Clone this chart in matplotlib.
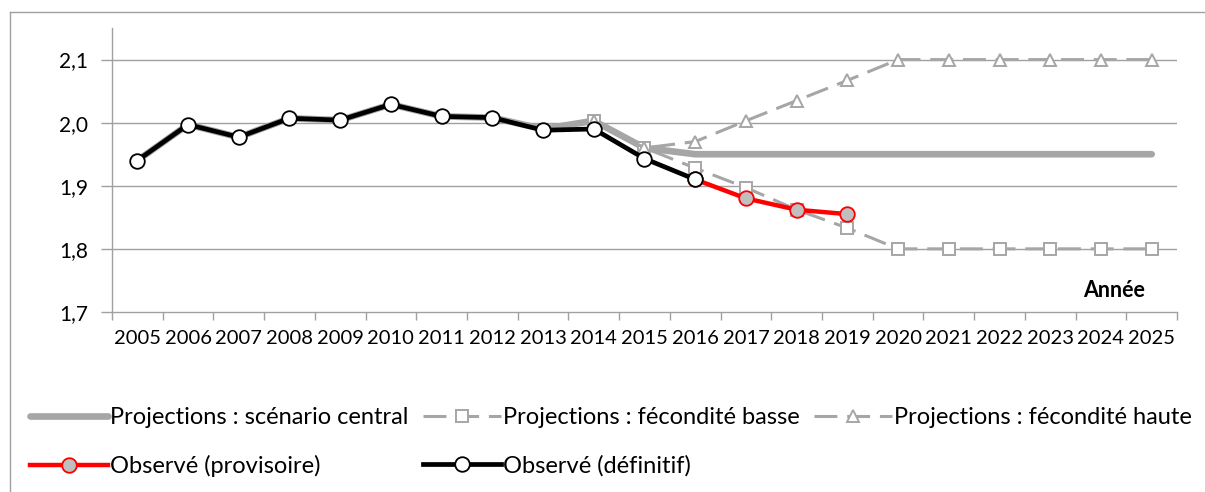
import matplotlib.pyplot as plt
from matplotlib.lines import Line2D
from matplotlib.ticker import FixedLocator, NullFormatter

# data
years = list(range(2005, 2026))
obs_def = [1.940, 1.997, 1.977, 2.007, 2.004, 2.029, 2.010, 2.008, 1.988, 1.990, 1.943, 1.910]
obs_prov_years = [2016, 2017, 2018, 2019]
obs_prov = [1.910, 1.880, 1.862, 1.855]
central_years = list(range(2005, 2026))
central = [1.940, 1.997, 1.977, 2.007, 2.004, 2.029, 2.010, 2.008, 1.990, 2.003, 1.960, 1.950,
           1.950, 1.950, 1.950, 1.950, 1.950, 1.950, 1.950, 1.950, 1.950]
proj_years = list(range(2014, 2026))
low = [2.003, 1.960, 1.928, 1.897, 1.862, 1.833, 1.800, 1.800, 1.800, 1.800, 1.800, 1.800]
high = [2.003, 1.960, 1.970, 2.003, 2.035, 2.067, 2.100, 2.100, 2.100, 2.100, 2.100, 2.100]
yticks = [1.7, 1.8, 1.9, 2.0, 2.1]

plt.rcParams['font.family'] = ['Lato', 'DejaVu Sans']
grey = '#A6A6A6'

fig = plt.figure(figsize=(12.05, 4.92), dpi=100)
ax = fig.add_axes([0.0929, 0.366, 0.8839, 0.577])

xi = {y: i for i, y in enumerate(years)}
dash = (7.5, 3.2)

ax.plot([xi[y] for y in central_years], central, color=grey, lw=4.8,
        solid_capstyle='round', solid_joinstyle='round', zorder=2,
        label='Projections : scénario central')
ax.plot([xi[y] for y in proj_years], low, color=grey, lw=2.2, dashes=dash,
        marker='s', ms=8, mfc='white', mec=grey, mew=1.4, zorder=3,
        label='Projections : fécondité basse')
ax.plot([xi[y] for y in proj_years], high, color=grey, lw=2.2, dashes=dash,
        marker='^', ms=8, mfc='white', mec=grey, mew=1.4, zorder=3,
        label='Projections : fécondité haute')
ax.plot([xi[y] for y in obs_prov_years], obs_prov, color='#FF0000', lw=3.2,
        marker='o', ms=10.5, mfc='#BFBFBF', mec='#FF0000', mew=1.3, zorder=4,
        label='Observé (provisoire)')
ax.plot([xi[y] for y in years[:len(obs_def)]], obs_def, color='black', lw=3.4,
        marker='o', ms=10.5, mfc='white', mec='black', mew=1.3, zorder=5,
        label='Observé (définitif)')

ax.set_xlim(-0.5, len(years) - 0.5)
ax.set_ylim(1.7, 2.15)
ax.set_yticks(yticks)
ax.set_yticklabels([f'{v:.1f}'.replace('.', ',') for v in yticks])
ax.set_xticks(range(len(years)))
ax.set_xticklabels([str(y) for y in years])
ax.xaxis.set_minor_locator(FixedLocator([i - 0.5 for i in range(len(years) + 1)]))
ax.xaxis.set_minor_formatter(NullFormatter())
ax.tick_params(axis='x', which='major', length=0, labelsize=14.5, pad=13)
ax.tick_params(axis='x', which='minor', length=6, color='#A0A0A0', width=1)
ax.tick_params(axis='y', length=8, color='#A0A0A0', width=1, labelsize=15, pad=9)

for v in yticks[1:]:
    ax.axhline(v, color='#A0A0A0', lw=1, zorder=1)
for s in ['top', 'right']:
    ax.spines[s].set_visible(False)
for s in ['left', 'bottom']:
    ax.spines[s].set_color('#A0A0A0')
    ax.spines[s].set_linewidth(1)

ax.text(0.97, 0.075, 'Année', transform=ax.transAxes, ha='right', va='center',
        fontsize=15.5, fontweight='bold')

handles, labels = ax.get_legend_handles_labels()
order = [0, 3, 1, 4, 2]
fig.legend([handles[i] for i in order], [labels[i] for i in order],
           loc='upper left', bbox_to_anchor=(0.025, 0.173), ncol=3, frameon=False,
           fontsize=17, handlelength=3.3, handletextpad=0.1, columnspacing=0.6,
           labelspacing=1.15, borderaxespad=0, borderpad=0)

# outer chart border
fig.add_artist(Line2D([10 / 1205, 10 / 1205], [0, 1 - 12 / 492], transform=fig.transFigure,
                      color='#A0A0A0', lw=1))
fig.add_artist(Line2D([10 / 1205, 1], [1 - 12 / 492, 1 - 12 / 492], transform=fig.transFigure,
                      color='#A0A0A0', lw=1))

fig.savefig('out.png', dpi=100, facecolor='white')
